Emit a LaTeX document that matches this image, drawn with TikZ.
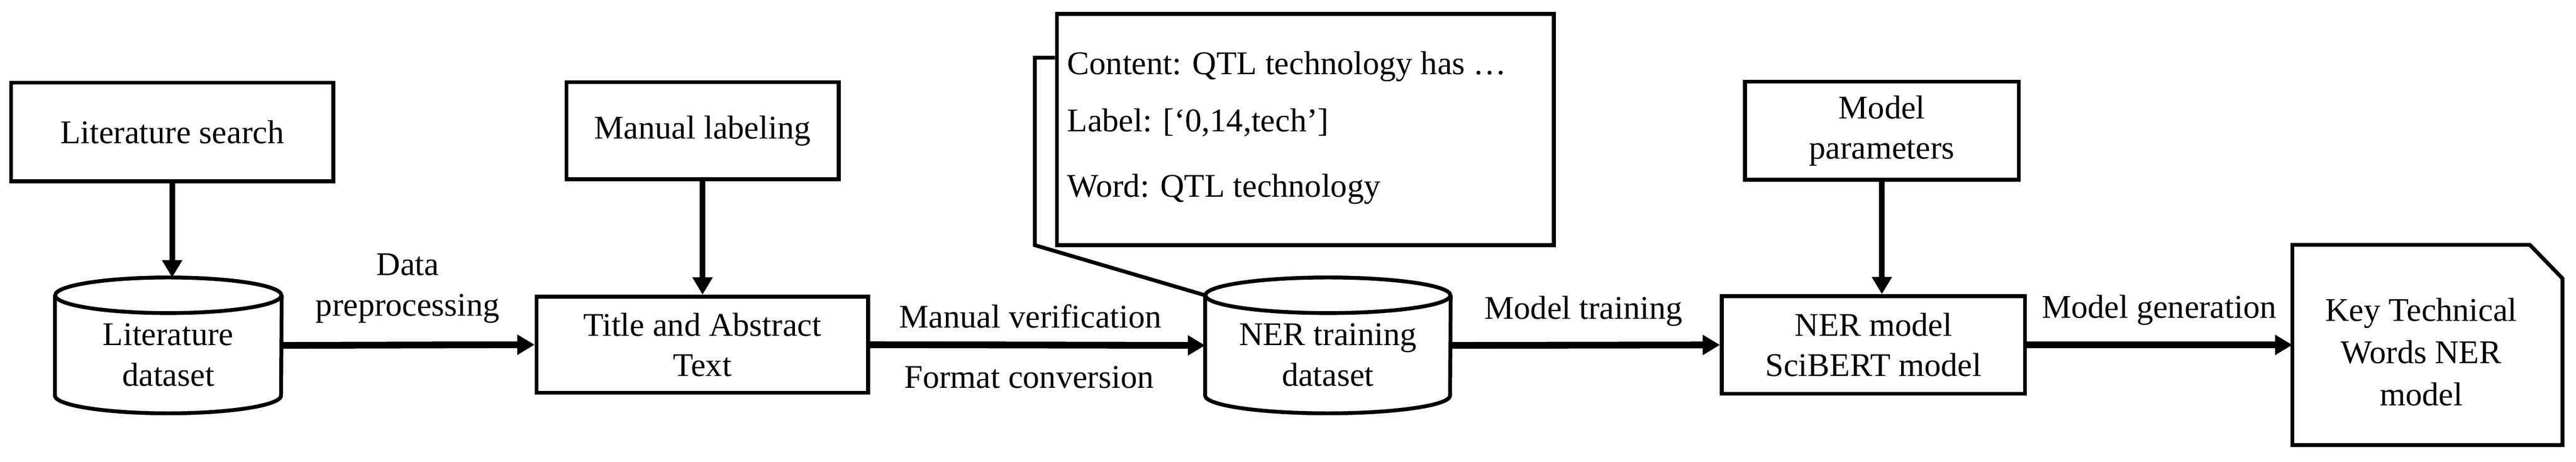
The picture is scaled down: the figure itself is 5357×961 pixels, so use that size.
\documentclass[tikz,border=0pt]{standalone}
\usepackage{fontspec}
\setmainfont{Liberation Serif}
\usetikzlibrary{arrows.meta,calc}
\begin{document}
\begin{tikzpicture}[x=0.01cm,y=-0.01cm,
  txt/.style={inner sep=0pt,align=center,font=\fontsize{19.6pt}{23.9pt}\selectfont},
  boxnode/.style={draw,line width=0.08cm,inner sep=0pt,align=center,font=\fontsize{19.6pt}{23.9pt}\selectfont},
  shapeln/.style={line width=0.08cm},
  hflow/.style={line width=0.14cm,-{Triangle[length=0.36cm,width=0.40cm]}},
  vflow/.style={line width=0.12cm,-{Triangle[length=0.36cm,width=0.40cm]}}]
\useasboundingbox (0,0) rectangle (5357,961);
\fill[white] (0,0) rectangle (5357,961);

% boxes
\node[boxnode,minimum width=6.70cm,minimum height=2.05cm] (ls) at (358,274.5) {Literature search};
\node[boxnode,minimum width=5.66cm,minimum height=2.02cm] (ml) at (1461,272) {Manual labeling};
\node[boxnode,minimum width=6.89cm,minimum height=2.00cm] (title) at (1460.5,717) {Title and Abstract\\Text};
\node[boxnode,minimum width=5.69cm,minimum height=2.04cm] (mp) at (3913.5,272) {Model\\parameters};
\node[boxnode,minimum width=6.30cm,minimum height=2.03cm] (nerm) at (3896,717.5) {NER model\\SciBERT model};

% literature cylinder
\node[inner sep=0pt,minimum width=4.70cm,minimum height=2.81cm] (lit) at (350,718.5) {};
\draw[shapeln,fill=white] ([yshift=-0.37cm]lit.north west) -- ([yshift=0.37cm]lit.south west)
  arc[start angle=180,end angle=360,x radius=2.35cm,y radius=0.37cm]
  -- ([yshift=-0.37cm]lit.north east);
\draw[shapeln] ([yshift=-0.37cm]lit.north) ellipse[x radius=2.35cm,y radius=0.37cm];
\node[txt] (littext) at (350,738) {Literature\\dataset};

% NER training cylinder
\node[inner sep=0pt,minimum width=5.09cm,minimum height=2.81cm] (ner) at (2761.5,718.5) {};
\draw[shapeln,fill=white] ([yshift=-0.37cm]ner.north west) -- ([yshift=0.37cm]ner.south west)
  arc[start angle=180,end angle=360,x radius=2.545cm,y radius=0.37cm]
  -- ([yshift=-0.37cm]ner.north east);
\draw[shapeln] ([yshift=-0.37cm]ner.north) ellipse[x radius=2.545cm,y radius=0.37cm];
\node[txt] (nertext) at (2761.5,738) {NER training\\dataset};

% callout with example
\node[draw,line width=0.08cm,inner sep=0pt,minimum width=10.33cm,minimum height=4.81cm] (info) at (2714.5,269.5) {};
\coordinate (cbA) at (2152,120);
\coordinate (cbB) at (2152,510);
\draw[shapeln,line join=miter] (info.west |- cbA) -- (cbA) -- (cbB) -- ([yshift=-0.37cm]ner.north west);
\node[txt,anchor=base west] (l1) at (2219,155) {Content: QTL technology has …};
\node[txt,anchor=base west] (l2) at (2219,274) {Label: [‘0,14,tech’]};
\node[txt,anchor=base west] (l3) at (2219,410) {Word: QTL technology};

% final model document
\node[inner sep=0pt,minimum width=5.60cm,minimum height=4.15cm] (key) at (5048,717.5) {};
\draw[shapeln,line join=miter] (key.north west) -- ([xshift=-0.68cm]key.north east)
  -- ([yshift=-0.70cm]key.north east) -- (key.south east) -- (key.south west) -- cycle;
\node[txt,font=\fontsize{19.6pt}{25pt}\selectfont] (keytext) at (5035,732) {Key Technical\\Words NER\\model};

% connectors
\draw[vflow] (ls.south) -- (ls.south |- lit.north);
\draw[vflow] (ml.south) -- (ml.south |- title.north);
\draw[vflow] (mp.south) -- (mp.south |- nerm.north);
\draw[hflow] (lit.east) -- (title.west);
\draw[hflow] (title.east) -- (ner.west);
\draw[hflow] (ner.east) -- (nerm.west);
\draw[hflow] (nerm.east) -- (key.west);

% connector labels
\node[txt] (lbdata) at (848,600) {Data\\preprocessing};
\node[txt,anchor=base] (lbmv) at (2143,682) {Manual verification};
\node[txt,anchor=base] (lbfc) at (2140,807) {Format conversion};
\node[txt,anchor=base] (lbmt) at (3293,664) {Model training};
\node[txt,anchor=base] (lbmg) at (4490,662) {Model generation};
\end{tikzpicture}
\end{document}
